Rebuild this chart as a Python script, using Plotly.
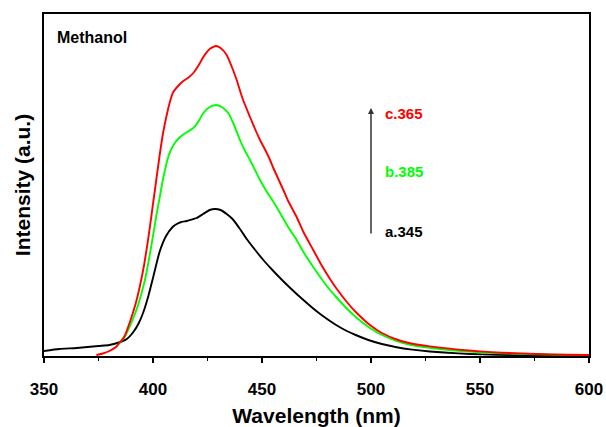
import plotly.graph_objects as go

# ---- data ----
wl_a = [350, 357, 365, 375, 380, 385, 388, 391, 393.5, 395.6, 398, 400, 403, 406, 409,
        410.9, 413, 415.4, 418.5, 420, 423, 426, 428.4, 431, 433.8, 436.5, 439.9, 443,
        447.6, 451, 455.2, 459.2, 462, 465.9, 469, 473.5, 477, 481.2, 484, 488.9, 493,
        499.5, 505, 511.8, 518, 527, 540, 551, 565, 580, 600]
int_a = [5, 7, 8, 10, 11, 14, 17, 24, 33, 44, 61, 78, 104, 120, 129,
         132, 134, 135, 137, 138, 142, 146, 147, 146, 142, 137, 127, 117,
         104, 95, 85, 76, 70, 62, 56, 47.5, 41.5, 35, 31, 25, 21,
         15.5, 12, 8.8, 6.6, 4.5, 2.6, 1.6, 0.9, 0.5, 0.3]

wl_b = [383, 385, 387, 389, 391, 393, 395, 396.3, 398, 400, 401.5, 403.2, 404, 405.5,
        407, 408, 410, 412.4, 415, 418.5, 421, 423.1, 426, 428.9, 431.5, 434.5, 437,
        439.9, 442, 444.5, 446.8, 449.1, 452, 455, 458.3, 462, 465.9, 469, 473.5, 477,
        481.2, 484, 488.9, 493, 499.5, 505, 511.8, 518, 527, 540, 550, 560, 576, 590, 600]
int_b = [9, 14, 19, 28, 38, 50, 65, 76, 95, 120, 140, 160, 170, 186,
         199, 205, 213, 219, 223, 228, 235, 243, 249, 251, 249, 243, 232,
         216, 206, 196, 186, 176, 165, 155, 143, 129, 116, 104, 89, 78,
         66, 59, 47.5, 39, 28, 21, 15, 11.3, 8.2, 5.3, 3.8, 2.8, 1.7, 1.1, 0.9]

wl_c = [374, 377, 380, 383, 385, 387, 389.4, 392, 394, 396, 398, 400, 401, 403, 404.7,
        406.5, 408, 409.3, 411.5, 413.9, 416, 418.5, 421, 423.1, 426, 428.9, 431, 433.8,
        436, 438.4, 441, 444.5, 447, 449.1, 451.5, 453.7, 455.2, 457.5, 460, 462, 465.9,
        469, 473.5, 477, 481.2, 484, 488.9, 493, 499.5, 505, 511.8, 518, 527, 540, 550,
        560, 576, 590, 600]
int_c = [1, 2.5, 5, 9, 14, 20, 34, 52, 70, 92, 120, 152, 168, 200, 224,
         243, 256, 264, 270, 275, 278, 283, 291, 299, 307, 310, 308, 301,
         290, 276, 258, 239, 226, 216, 206, 196, 188, 177, 165, 155, 139,
         124, 106, 92, 77, 68, 54, 44, 31, 23, 16.5, 12.8, 9.6, 6.4, 4.6,
         3.3, 2.0, 1.3, 1.0]

x_ticks = [350, 400, 450, 500, 550, 600]
series = [
    ("a.345", wl_a, int_a, "#000000"),
    ("b.385", wl_b, int_b, "#00FF00"),
    ("c.365", wl_c, int_c, "#FF0000"),
]

FONT = "Arial, Liberation Sans, sans-serif"

fig = go.Figure()
for name, xs, ys, col in series:
    fig.add_trace(go.Scatter(x=xs, y=ys, mode="lines", name=name,
                             line=dict(color=col, width=1.9, shape="spline", smoothing=0.5),
                             showlegend=False))

# arrow
fig.add_annotation(x=500, y=248, ax=500, ay=121, xref="x", yref="y", axref="x", ayref="y",
                   showarrow=True, arrowhead=2, arrowsize=0.8, arrowwidth=1.5,
                   arrowcolor="#333333", text="")
# labels
for name, yv, col in [("c.365", 243, "#FF0000"), ("b.385", 185, "#00FF00"), ("a.345", 125, "#000000")]:
    fig.add_annotation(x=505.5, y=yv, xref="x", yref="y", text=name, showarrow=False,
                       xanchor="left", yanchor="middle",
                       font=dict(family=FONT, size=15, color=col, weight="bold"))
fig.add_annotation(x=355, y=319, xref="x", yref="y", text="Methanol", showarrow=False,
                   xanchor="left", yanchor="middle",
                   font=dict(family=FONT, size=16, color="#000000", weight="bold"))

fig.update_layout(
    width=606, height=427,
    margin=dict(l=44, r=17, t=14, b=71),
    paper_bgcolor="white", plot_bgcolor="white",
    font=dict(family=FONT, color="black"),
)
fig.update_xaxes(
    range=[350, 600], tickvals=x_ticks, ticktext=[str(v) for v in x_ticks],
    ticks="outside", ticklen=5, tickwidth=1.5, tickcolor="black",
    minor=dict(dtick=25, ticks="outside", ticklen=3, tickwidth=1.2, tickcolor="black"),
    showline=True, mirror=True, linecolor="black", linewidth=1.5,
    showgrid=False, zeroline=False,
    tickfont=dict(family=FONT, size=17, weight="bold"),
    ticklabelstandoff=12,
    title=dict(text="Wavelength (nm)", font=dict(family=FONT, size=21, weight="bold"), standoff=10),
    automargin=False,
)
fig.update_yaxes(
    range=[0, 342], showticklabels=False, ticks="",
    showline=True, mirror=True, linecolor="black", linewidth=1.5,
    showgrid=False, zeroline=False,
    title=dict(text="Intensity (a.u.)", font=dict(family=FONT, size=21, weight="bold"), standoff=6),
    automargin=False,
)

fig.write_html("out.html")
